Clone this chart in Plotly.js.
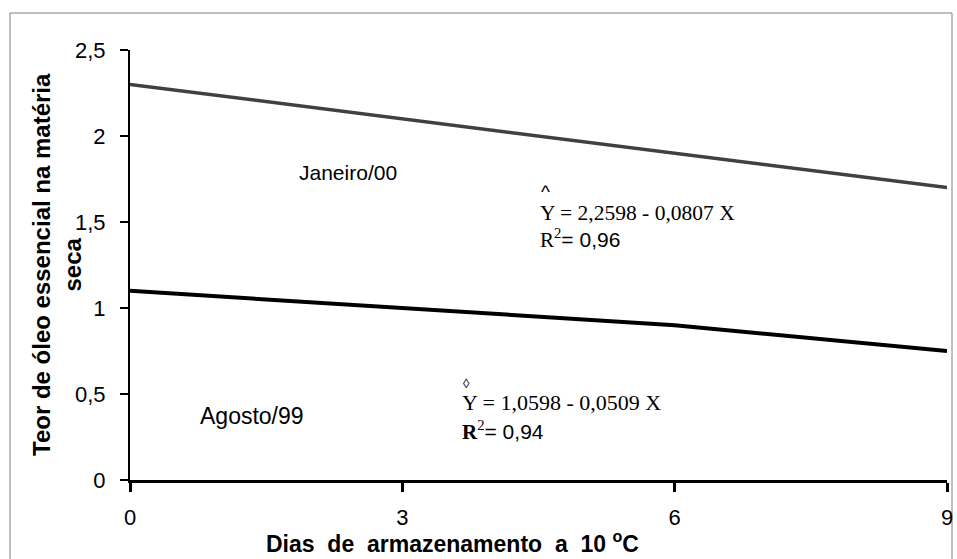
<!DOCTYPE html>
<html>
<head>
<meta charset="utf-8">
<script src="https://cdn.plot.ly/plotly-3.0.1.min.js"></script>
<style>
  html, body { margin: 0; padding: 0; background: #ffffff; }
  #chart { width: 957px; height: 559px; }
</style>
</head>
<body>
<div id="chart"></div>
<script>
// Storage days at 10 °C
const dias = [0, 3, 6, 9];
// Essential oil content in dry matter, per harvest
const janeiro00 = [2.3, 2.1, 1.9, 1.7];
const agosto99 = [1.1, 1.0, 0.9, 0.75];

const xTickVals = [0, 3, 6, 9];
const xTickText = ['0', '3', '6', '9'];
const yTickVals = [0, 0.5, 1, 1.5, 2, 2.5];
const yTickText = ['0', '0,5', '1', '1,5', '2', '2,5'];

// Page geometry
const W = 957, H = 559;
const M = { l: 130, r: 10, t: 50, b: 79 };
const PW = W - M.l - M.r, PH = H - M.t - M.b;
const px = x => (x - M.l) / PW;
const py = y => (H - M.b - y) / PH;

const SANS = 'Liberation Sans, Arial, sans-serif';
const SERIF = 'Liberation Serif, Times New Roman, serif';

const traces = [
  {
    x: dias, y: janeiro00, name: 'Janeiro/00',
    type: 'scatter', mode: 'lines',
    line: { color: '#404040', width: 3.5 },
    hoverinfo: 'x+y'
  },
  {
    x: dias, y: agosto99, name: 'Agosto/99',
    type: 'scatter', mode: 'lines',
    line: { color: '#000000', width: 4 },
    hoverinfo: 'x+y'
  }
];

const layout = {
  width: W, height: H,
  margin: M,
  paper_bgcolor: '#ffffff',
  plot_bgcolor: '#ffffff',
  showlegend: false,
  font: { family: SANS, size: 22, color: '#000000' },
  xaxis: {
    range: [0, 9],
    tickvals: xTickVals, ticktext: xTickText,
    showline: true, linecolor: '#000000', linewidth: 3,
    ticks: 'outside', ticklen: 9, tickwidth: 3, tickcolor: '#000000',
    ticklabelstandoff: 7,
    showgrid: false, zeroline: false,
    tickfont: { family: SANS, size: 22, color: '#000000' },
    fixedrange: true
  },
  yaxis: {
    range: [0, 2.5],
    tickvals: yTickVals, ticktext: yTickText,
    showline: true, linecolor: '#000000', linewidth: 2,
    ticks: 'outside', ticklen: 8, tickwidth: 2, tickcolor: '#000000',
    ticklabelstandoff: 10,
    showgrid: false, zeroline: false,
    tickfont: { family: SANS, size: 22, color: '#000000' },
    fixedrange: true
  },
  shapes: [
    {
      type: 'rect', xref: 'paper', yref: 'paper',
      x0: px(10), x1: px(952), y0: py(580), y1: py(13),
      line: { color: '#808080', width: 1 }, fillcolor: 'rgba(0,0,0,0)',
      layer: 'below'
    }
  ],
  annotations: [
    // axis titles
    {
      xref: 'paper', yref: 'paper', x: px(264), y: py(542),
      xanchor: 'left', yanchor: 'middle', showarrow: false,
      text: '<b>Dias  de  armazenamento  a  10 <sup>o</sup>C</b>',
      font: { family: SANS, size: 23, color: '#000000' }
    },
    {
      xref: 'paper', yref: 'paper', x: px(57), y: py(265),
      xanchor: 'center', yanchor: 'middle', showarrow: false,
      textangle: -90, align: 'center',
      text: '<b>Teor de óleo essencial na matéria<br>seca</b>',
      font: { family: SANS, size: 24, color: '#000000' }
    },
    // series labels
    {
      x: 1.84, y: 1.79, xref: 'x', yref: 'y', showarrow: false,
      xanchor: 'left',
      text: 'Janeiro/00',
      font: { family: SANS, size: 21, color: '#000000' }
    },
    {
      x: 0.75, y: 0.37, xref: 'x', yref: 'y', showarrow: false,
      xanchor: 'left',
      text: 'Agosto/99',
      font: { family: SANS, size: 23, color: '#000000' }
    },
    // regression equations
    {
      x: 4.49, y: 1.55, xref: 'x', yref: 'y', showarrow: false,
      xanchor: 'left',
      text: 'Y = 2,2598 - 0,0807 X',
      font: { family: SERIF, size: 21.5, color: '#000000' }
    },
    {
      x: 4.49, y: 1.675, xref: 'x', yref: 'y', showarrow: false,
      xanchor: 'left', xshift: 1,
      text: '^',
      font: { family: SANS, size: 19, color: '#000000' }
    },
    {
      x: 4.49, y: 1.405, xref: 'x', yref: 'y', showarrow: false,
      xanchor: 'left',
      text: '<span style="font-family:Liberation Serif">R<sup>2</sup></span>= 0,96',
      font: { family: SANS, size: 21, color: '#000000' }
    },
    {
      x: 3.63, y: 0.45, xref: 'x', yref: 'y', showarrow: false,
      xanchor: 'left',
      text: 'Y = 1,0598 - 0,0509 X',
      font: { family: SERIF, size: 22, color: '#000000' }
    },
    {
      x: 3.63, y: 0.56, xref: 'x', yref: 'y', showarrow: false,
      xanchor: 'left', xshift: 1,
      text: '◊',
      font: { family: SERIF, size: 13, color: '#000000' }
    },
    {
      x: 3.63, y: 0.29, xref: 'x', yref: 'y', showarrow: false,
      xanchor: 'left',
      text: '<span style="font-family:Liberation Serif"><b>R</b><sup>2</sup></span>= 0,94',
      font: { family: SANS, size: 21, color: '#000000' }
    }
  ]
};

Plotly.newPlot('chart', traces, layout, { staticPlot: true, displayModeBar: false });
</script>
</body>
</html>
